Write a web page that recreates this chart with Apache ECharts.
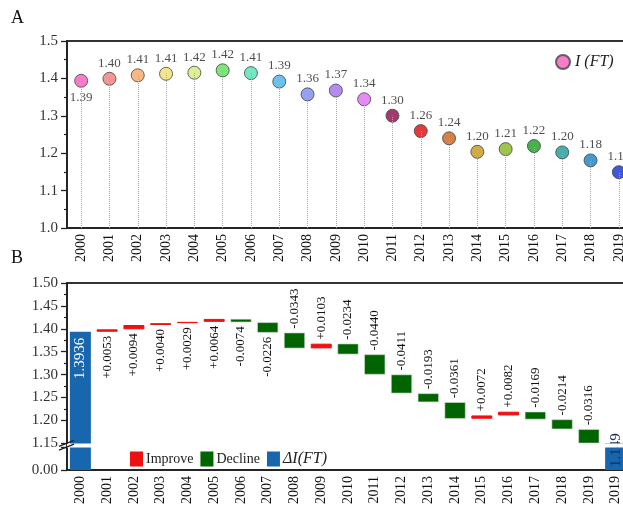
<!DOCTYPE html>
<html>
<head>
<meta charset="utf-8">
<script src="https://cdn.jsdelivr.net/npm/echarts@6/dist/echarts.min.js"></script>
<style>
  html, body { margin: 0; padding: 0; background: #fff; }
  #chart { width: 623px; height: 515px; }
</style>
</head>
<body>
<div id="chart"></div>
<script>
// Panel A: yearly I(FT) index
const years = ['2000', '2001', '2002', '2003', '2004', '2005', '2006', '2007', '2008', '2009',
               '2010', '2011', '2012', '2013', '2014', '2015', '2016', '2017', '2018', '2019'];
const indexFT = [1.3936, 1.3989, 1.4083, 1.4123, 1.4152, 1.4216, 1.4142, 1.3916, 1.3573, 1.3676,
                 1.3442, 1.3002, 1.2591, 1.2398, 1.2037, 1.2109, 1.2191, 1.2022, 1.1808, 1.1492];
const yearColors = ['#f25cbc', '#f57a7a', '#f7a766', '#efe070', '#d3ea7e', '#5de05a', '#4fe3b0',
                    '#47b2ee', '#7a8af0', '#a06ef0', '#e06ef2', '#8a0a48', '#dc0a0a', '#c8621a',
                    '#c4961a', '#86b620', '#1a9e1e', '#1a9898', '#1a7ec0', '#1030d0'];
const axisTicksA = [1.0, 1.5, 0.1];

// Panel B: year-on-year changes between the two totals
const wfCategories = years.concat(['2019']);
const startTotal = 1.3936;
const endTotal = 1.149;
const changes = [0.0053, 0.0094, 0.0040, 0.0029, 0.0064, -0.0074, -0.0226, -0.0343, 0.0103,
                 -0.0234, -0.0440, -0.0411, -0.0193, -0.0361, 0.0072, 0.0082, -0.0169, -0.0214, -0.0316];
const axisTicksB = [0, 1.5, 0.05];
const breakRange = [0.05, 1.15];

const FONT = '"Liberation Serif", "Times New Roman", serif';
const INK = '#222';
const RED = '#ee1111', GREEN = '#006400', BLUE = '#1766ae';

// labels sit under the bars while the bars still hug the top of the frame
const labelsBelowThrough = '2007';

// running level before/after each change -> waterfall pieces
const base = [0], improve = ['-'], decline = ['-'], totals = [startTotal];
let level = startTotal;
changes.forEach((d, i) => {
  const next = level + d;
  const below = wfCategories[i + 1] <= labelsBelowThrough;
  const label = below
    ? { show: true, position: 'bottom', rotate: 90, align: 'right', verticalAlign: 'middle', distance: 4 }
    : { show: true, position: 'top', rotate: 90, align: 'left', verticalAlign: 'middle', distance: 4 };
  base.push(+Math.min(level, next).toFixed(4));
  improve.push(d > 0 ? { value: d, label } : '-');
  decline.push(d < 0 ? { value: -d, label } : '-');
  totals.push('-');
  level = next;
});
base.push(0); improve.push('-'); decline.push('-'); totals.push(endTotal);

const fmtChange = (v, i) => {
  const d = changes[i - 1];
  return (d > 0 ? '+' : '') + d.toFixed(4);
};

const axisLineStyle = { color: INK, width: 1.5 };
const GRID_LEFT = 67;

const chart = echarts.init(document.getElementById('chart'), null, { renderer: 'canvas' });

chart.setOption({
  backgroundColor: '#fff',
  animation: false,
  textStyle: { fontFamily: FONT },
  grid: [
    { left: GRID_LEFT, top: 41, width: 566, height: 187, show: true, borderColor: '#333', borderWidth: 2,
      outerBoundsMode: 'none', containLabel: false },
    { left: GRID_LEFT, top: 283, width: 562, height: 187, show: true, borderColor: '#333', borderWidth: 2,
      outerBoundsMode: 'none', containLabel: false }
  ],
  legend: [
    {
      data: ['I (FT)'], left: 550, top: 49, itemWidth: 14, itemHeight: 14, icon: 'circle', itemGap: 4,
      textStyle: { fontFamily: FONT, fontSize: 16, fontStyle: 'italic', color: '#222' }
    },
    {
      data: ['Improve', 'Decline', { name: 'ΔI(FT)', textStyle: { fontStyle: 'italic', fontSize: 16 } }],
      left: 125, top: 446, itemWidth: 13, itemHeight: 15, itemGap: 7, icon: 'rect',
      itemStyle: { borderWidth: 0 },
      textStyle: { fontFamily: FONT, fontSize: 14, color: '#222', padding: [0, 0, 0, -2] }
    }
  ],
  xAxis: [
    {
      gridIndex: 0, type: 'category', data: years,
      axisLine: { lineStyle: axisLineStyle },
      axisTick: { alignWithLabel: true, interval: 0, length: 6, lineStyle: { color: INK, width: 1.3 } },
      axisLabel: { interval: 0, rotate: 90, fontSize: 14, color: '#111', fontFamily: FONT, margin: 6 },
      splitLine: { show: false }
    },
    {
      gridIndex: 0, type: 'category', data: years, position: 'bottom',
      axisLine: { show: false },
      axisTick: { interval: 0, length: 3, lineStyle: { color: INK, width: 1.2 } },
      axisLabel: { show: false }, splitLine: { show: false }
    },
    {
      gridIndex: 1, type: 'category', data: wfCategories,
      axisLine: { lineStyle: axisLineStyle },
      axisTick: { alignWithLabel: true, interval: 0, length: 6, lineStyle: { color: INK, width: 1.3 } },
      axisLabel: { interval: 0, rotate: 90, fontSize: 14, color: '#111', fontFamily: FONT, margin: 6 },
      splitLine: { show: false }
    },
    {
      gridIndex: 1, type: 'category', data: wfCategories, position: 'bottom',
      axisLine: { show: false },
      axisTick: { interval: 0, length: 3, lineStyle: { color: INK, width: 1.2 } },
      axisLabel: { show: false }, splitLine: { show: false }
    }
  ],
  yAxis: [
    {
      gridIndex: 0, type: 'value', min: axisTicksA[0], max: axisTicksA[1], interval: axisTicksA[2],
      axisLine: { show: true, lineStyle: axisLineStyle },
      axisTick: { show: true, length: 6, lineStyle: { color: INK, width: 1.3 } },
      minorTick: { show: true, splitNumber: 2, length: 3, lineStyle: { color: INK, width: 1.2 } },
      axisLabel: { formatter: v => v.toFixed(1), fontSize: 15, color: '#333', fontFamily: FONT, margin: 9 },
      splitLine: { show: false }
    },
    {
      gridIndex: 1, type: 'value', min: axisTicksB[0], max: axisTicksB[1], interval: axisTicksB[2],
      breaks: [{ start: breakRange[0], end: breakRange[1], gap: '2%' }],
      breakArea: {
        show: true, expandOnClick: false, zigzagAmplitude: 0,
        itemStyle: { color: '#fff', borderColor: '#fff', borderWidth: 0, opacity: 1 }
      },
      breakLabelLayout: { moveOverlap: false },
      axisLine: { show: true, lineStyle: axisLineStyle },
      axisTick: { show: true, length: 6, lineStyle: { color: INK, width: 1.3 } },
      minorTick: { show: true, splitNumber: 2, length: 3, lineStyle: { color: INK, width: 1.2 } },
      axisLabel: {
        formatter: v => (v > 0.001 && v < breakRange[1] - 0.001) ? '' : v.toFixed(2),
        verticalAlign: 'middle',
        fontSize: 15, color: '#333', fontFamily: FONT, margin: 9
      },
      splitLine: { show: false }
    }
  ],
  series: [
    {
      name: 'drop', type: 'scatter', xAxisIndex: 0, yAxisIndex: 0, data: [], silent: true, z: 1,
      markLine: {
        silent: true, symbol: 'none', animation: false,
        label: { show: false },
        lineStyle: { type: 'dotted', color: '#a8a8a8', width: 1 },
        data: years.map((y, i) => [{ coord: [y, axisTicksA[0]] }, { coord: [y, indexFT[i]] }])
      }
    },
    {
      name: 'I (FT)', type: 'scatter', xAxisIndex: 0, yAxisIndex: 0, z: 3,
      symbolSize: 13,
      itemStyle: { color: yearColors[0], borderColor: '#444', borderWidth: 1 },
      data: indexFT.map((v, i) => ({
        value: v,
        itemStyle: { color: yearColors[i] },
        label: i === 0 ? { position: 'bottom', distance: 3 } : undefined
      })),
      label: {
        show: true, position: 'top', distance: 2,
        formatter: p => p.value.toFixed(2),
        fontSize: 13, color: '#222', fontFamily: FONT
      }
    },
    {
      name: 'base', type: 'bar', xAxisIndex: 2, yAxisIndex: 1, stack: 'wf', silent: true,
      barWidth: 21, itemStyle: { color: 'transparent' }, data: base
    },
    {
      name: 'Improve', type: 'bar', xAxisIndex: 2, yAxisIndex: 1, stack: 'wf', barWidth: 21,
      itemStyle: { color: RED, borderColor: RED, borderWidth: 1 },
      label: { formatter: p => fmtChange(p.value, p.dataIndex), fontSize: 13, color: '#111', fontFamily: FONT },
      data: improve
    },
    {
      name: 'Decline', type: 'bar', xAxisIndex: 2, yAxisIndex: 1, stack: 'wf', barWidth: 21,
      itemStyle: { color: GREEN, borderColor: '#cfd8cf', borderWidth: 0.6 },
      label: { formatter: p => fmtChange(p.value, p.dataIndex), fontSize: 13, color: '#111', fontFamily: FONT },
      data: decline
    },
    {
      name: 'ΔI(FT)', type: 'bar', xAxisIndex: 2, yAxisIndex: 1, stack: 'wf', barWidth: 21,
      itemStyle: { color: BLUE },
      data: totals.map((v, i) => v === '-' ? '-' : {
        value: v,
        label: i === 0
          ? { show: true, position: 'insideTop', rotate: 90, align: 'right', verticalAlign: 'middle', distance: 6,
              color: '#fff', fontSize: 15, fontFamily: FONT, formatter: p => p.value.toFixed(4) }
          : { show: true, position: 'insideBottom', rotate: 90, align: 'left', verticalAlign: 'middle', distance: 3,
              color: '#1c2a55', fontSize: 15, fontFamily: FONT, formatter: p => String(p.value) }
      })
    }
  ]
});

// panel letters and the "//" break marks on the value axis of panel B
const yLow = chart.convertToPixel({ yAxisIndex: 1 }, breakRange[0]);
const yHigh = chart.convertToPixel({ yAxisIndex: 1 }, breakRange[1]);
const mark = y => ({
  type: 'line', z: 100,
  shape: { x1: GRID_LEFT - 8, y1: y + 3, x2: GRID_LEFT + 7, y2: y - 3 },
  style: { stroke: INK, lineWidth: 1.4 }
});
chart.setOption({
  graphic: [
    { type: 'text', left: 11, top: 9, style: { text: 'A', font: '18px ' + FONT, fill: '#111' } },
    { type: 'text', left: 11, top: 249, style: { text: 'B', font: '18px ' + FONT, fill: '#111' } },
    mark(yHigh),
    mark(yLow)
  ]
});
</script>
</body>
</html>
